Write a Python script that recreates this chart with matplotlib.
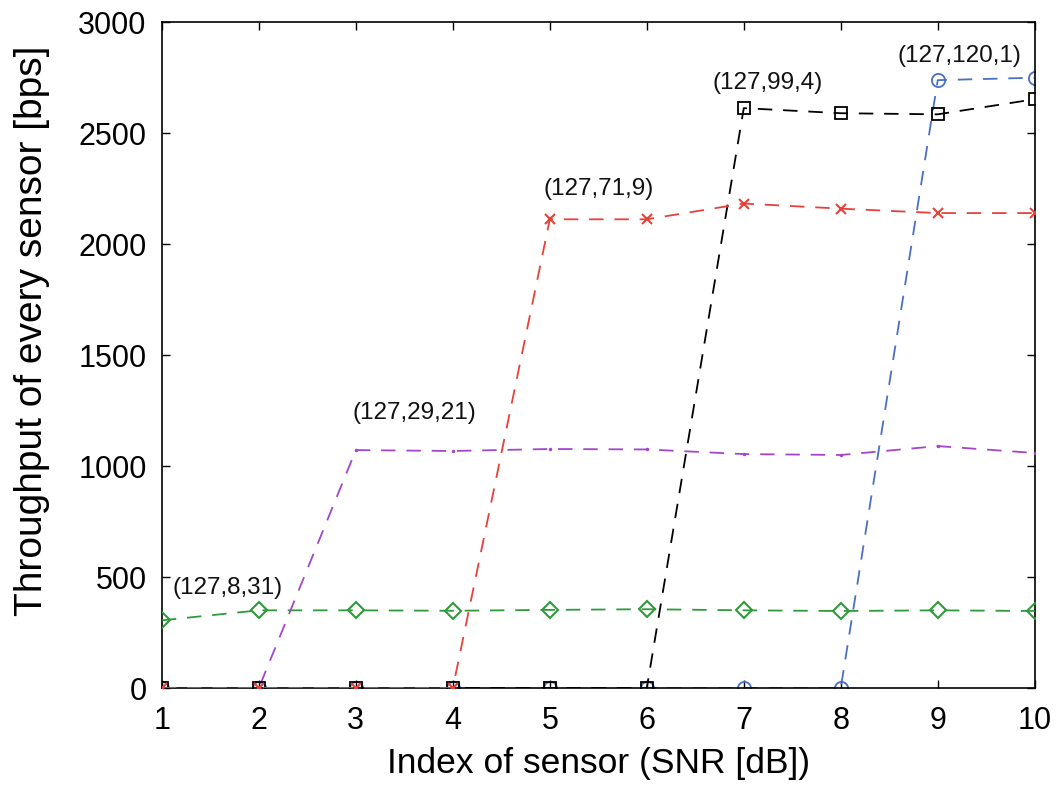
import matplotlib
matplotlib.use("Agg")
import matplotlib.pyplot as plt

x = [1, 2, 3, 4, 5, 6, 7, 8, 9, 10]
green = [305, 350, 350, 348, 352, 355, 350, 347, 350, 347]
purple = [0, 0, 1072, 1068, 1077, 1075, 1054, 1050, 1090, 1059]
red = [0, 0, 0, 0, 2112, 2112, 2183, 2160, 2140, 2140]
black = [0, 0, 0, 0, 0, 0, 2613, 2590, 2585, 2653]
blue = [0, 0, 0, 0, 0, 0, 0, 0, 2739, 2750]

labels = ["(127,8,31)", "(127,29,21)", "(127,71,9)", "(127,99,4)", "(127,120,1)"]
label_x = [1.68, 3.6, 5.5, 7.25, 9.22]
label_y = [400, 1190, 2200, 2675, 2800]

plt.rcParams['font.family'] = ['Liberation Sans', 'DejaVu Sans']

fig = plt.figure(figsize=(10.58, 7.94), dpi=100)
ax = fig.add_axes([0.153, 0.1335, 0.825, 0.8385])

lw = 1.3
ds = (8, 6)
ax.plot(x, blue, color='#4a6fc4', ls='--', dashes=ds, lw=lw, marker='o', ms=9.5,
        mfc='none', mew=1.3, zorder=2)
ax.plot(x, green, color='#2f9a3c', ls='--', dashes=ds, lw=lw, marker='D', ms=8.5,
        mfc='none', mew=1.5, zorder=3)
ax.plot(x, purple, color='#a446cc', ls='--', dashes=ds, lw=lw, marker='.', ms=3,
        zorder=3)
ax.plot(x, black, color='black', ls='--', dashes=ds, lw=lw, marker='s', ms=8.5,
        mfc='none', mew=1.3, zorder=4)
ax.plot(x, red, color='#e8413a', ls='--', dashes=ds, lw=lw, marker='x', ms=6.5,
        mew=1.5, zorder=5)

for t, tx, ty in zip(labels, label_x, label_y):
    ax.text(tx, ty, t, fontsize=17.5, ha='center', va='bottom', color='#111111')

ax.set_xlim(1, 10)
ax.set_ylim(0, 3000)
ax.set_xticks(x)
ax.set_yticks(range(0, 3001, 500))
ax.tick_params(direction='in', top=True, right=True, length=6, width=1,
               labelsize=22)
ax.tick_params(axis='x', pad=13)
ax.tick_params(axis='y', pad=11)
for s in ax.spines.values():
    s.set_linewidth(1.2)
ax.set_xlabel("Index of sensor (SNR [dB])", fontsize=25.5, labelpad=8)
ax.set_ylabel("Throughput of every sensor [bps]", fontsize=28, va='center')
ax.yaxis.set_label_coords(-0.149, 0.537)

fig.savefig("out.png", dpi=100)
